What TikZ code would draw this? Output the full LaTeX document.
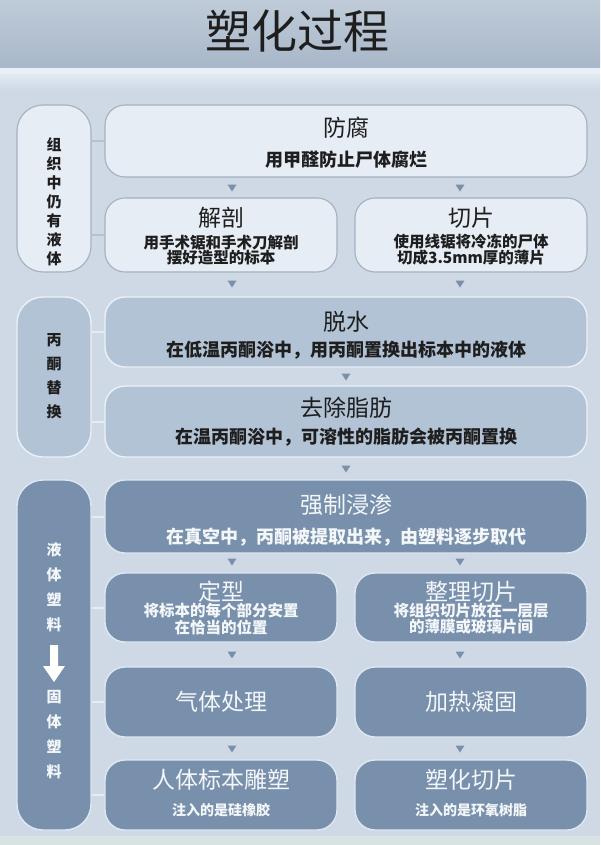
\documentclass[tikz,border=0pt]{standalone}
\usepackage{fontspec}
\setmainfont{Noto Sans CJK SC}
\usetikzlibrary{calc}
\definecolor{bg}{HTML}{CED9E5}
\definecolor{bandtop}{HTML}{BFCBD8}
\definecolor{bandbot}{HTML}{A8B7C9}
\definecolor{wline}{HTML}{E9EFF6}
\definecolor{lightfill}{HTML}{E7EDF5}
\definecolor{lightedge}{HTML}{A3B1C1}
\definecolor{midfill}{HTML}{B3C3D6}
\definecolor{midedge}{HTML}{EAF1F8}
\definecolor{darkfill}{HTML}{7890AC}
\definecolor{darkedge}{HTML}{DDE8F3}
\definecolor{tricol}{HTML}{7A90A8}
\definecolor{connlight}{HTML}{B4C1D0}
\definecolor{connwhite}{HTML}{E4ECF5}
\definecolor{ink}{HTML}{1E1E1E}
\definecolor{wink}{HTML}{F4F7FA}
\definecolor{botstrip}{HTML}{D8E2E3}
\begin{document}
\begin{tikzpicture}[x=1pt,y=1pt,
  lightbox/.style={draw=lightedge, fill=lightfill, line width=1.1pt, rounded corners=20pt, inner sep=0pt},
  midbox/.style={draw=midedge, fill=midfill, line width=1.4pt, rounded corners=20pt, inner sep=0pt},
  darkbox/.style={draw=darkedge, fill=darkfill, line width=1.4pt, rounded corners=20pt, inner sep=0pt},
  full/.style={minimum width=482pt},
  half/.style={minimum width=232pt},
  side/.style={minimum width=74pt, rounded corners=26pt},
  ttl/.style={font=\fontsize{23}{26}\selectfont, inner sep=0pt},
  sub/.style={font=\bfseries\fontsize{18}{20}\selectfont, inner sep=0pt},
  hsub/.style={font=\bfseries\fontsize{15.5}{15}\selectfont, align=center, inner sep=0pt},
  vtext/.style={font=\bfseries\fontsize{15}{19}\selectfont, align=center, inner sep=0pt},
  tri/.style={fill=tricol},
  conn/.style={line width=2pt}
]
\useasboundingbox (0,0) rectangle (600,-845);
\fill[bg] (0,0) rectangle (600,-845);
\shade[top color=bandtop, bottom color=bandbot] (0,0) rectangle (600,-68);
\fill[wline] (0,-68) rectangle (600,-75);
\shade[top color=wline!70!bg, bottom color=bg] (0,-75) rectangle (600,-90);
\fill[botstrip] (0,-836) rectangle (600,-845);
\node[font=\fontsize{46}{50}\selectfont, text=ink, inner sep=0pt] (title) at (297,-31) {塑化过程};

% left group boxes
\node[lightbox,side,minimum height=167pt] (g1) at (54,-188.5) {};
\node[midbox,side,minimum height=160pt] (g2) at (54,-377) {};
\node[darkbox,side,minimum height=350pt] (g3) at (54,-655) {};

% main boxes
\node[lightbox,full,minimum height=72pt] (fangfu) at (346,-141) {};
\node[lightbox,half,minimum height=74pt] (jiepou) at (221,-235) {};
\node[lightbox,half,minimum height=74pt] (qiepian) at (471,-235) {};
\node[midbox,full,minimum height=70pt] (tuoshui) at (346,-332) {};
\node[midbox,full,minimum height=71pt] (quchu) at (346,-421.5) {};
\node[darkbox,full,minimum height=73pt] (qiangzhi) at (346,-516.5) {};
\node[darkbox,half,minimum height=69pt] (dingxing) at (221,-607.5) {};
\node[darkbox,half,minimum height=69pt] (zhengli) at (471,-607.5) {};
\node[darkbox,half,minimum height=70pt] (qiti) at (221,-702) {};
\node[darkbox,half,minimum height=70pt] (jiare) at (471,-702) {};
\node[darkbox,half,minimum height=70pt] (renti) at (221,-795) {};
\node[darkbox,half,minimum height=70pt] (suhua) at (471,-795) {};

% connectors from side groups
\draw[conn,connlight] (g1.east |- fangfu.west) -- (fangfu.west);
\draw[conn,connlight] (g1.east |- jiepou.west) -- (jiepou.west);
\draw[conn,connwhite] (g2.east |- tuoshui.west) -- (tuoshui.west);
\draw[conn,connwhite] (g2.east |- quchu.west) -- (quchu.west);
\draw[conn,connwhite] (g3.east |- qiangzhi.west) -- (qiangzhi.west);
\draw[conn,connwhite] (g3.east |- dingxing.west) -- (dingxing.west);
\draw[conn,connwhite] (g3.east |- qiti.west) -- (qiti.west);
\draw[conn,connwhite] (g3.east |- renti.west) -- (renti.west);

% flow triangles
\foreach \x/\y in {232/188, 460/188, 232/284, 460/284, 346/377, 346/469,
                   232/562, 460/562, 232/655, 460/655, 232/749, 460/749}
  \fill[tri] (\x-4.5,-\y+3.5) -- (\x+4.5,-\y+3.5) -- (\x,-\y-3.5) -- cycle;

% texts: light boxes
\node[ttl,text=ink] at (346,-128) {防腐};
\node[sub,text=ink] at (346,-160) {用甲醛防止尸体腐烂};
\node[ttl,text=ink] at (221,-218) {解剖};
\node[hsub,text=ink] at (221,-250) {用手术锯和手术刀解剖\\摆好造型的标本};
\node[ttl,text=ink] at (471,-218) {切片};
\node[hsub,text=ink] at (471,-250) {使用线锯将冷冻的尸体\\切成3.5mm厚的薄片};
% mid boxes
\node[ttl,text=ink] at (346,-322) {脱水};
\node[sub,text=ink] at (346,-350) {在低温丙酮浴中，用丙酮置换出标本中的液体};
\node[ttl,text=ink] at (346,-408) {去除脂肪};
\node[sub,text=ink] at (346,-437) {在温丙酮浴中，可溶性的脂肪会被丙酮置换};
% dark boxes
\node[ttl,text=wink] at (346,-505) {强制浸渗};
\node[sub,text=wink] at (346,-537) {在真空中，丙酮被提取出来，由塑料逐步取代};
\node[ttl,text=wink] at (221,-592) {定型};
\node[hsub,text=wink] at (221,-619) {将标本的每个部分安置\\在恰当的位置};
\node[ttl,text=wink] at (471,-592) {整理切片};
\node[hsub,text=wink] at (471,-619) {将组织切片放在一层层\\的薄膜或玻璃片间};
\node[ttl,text=wink] at (221,-702) {气体处理};
\node[ttl,text=wink] at (471,-702) {加热凝固};
\node[ttl,text=wink] at (221,-780) {人体标本雕塑};
\node[hsub,text=wink,font=\bfseries\fontsize{14}{14}\selectfont] at (221,-810) {注入的是硅橡胶};
\node[ttl,text=wink] at (471,-780) {塑化切片};
\node[hsub,text=wink,font=\bfseries\fontsize{14}{14}\selectfont] at (471,-810) {注入的是环氧树脂};

% side texts
\node[vtext,text=ink] at (54,-202) {组\\织\\中\\仍\\有\\液\\体};
\node[vtext,text=ink,font=\bfseries\fontsize{15}{24}\selectfont] at (54,-376) {丙\\酮\\替\\换};
\node[vtext,text=wink,font=\bfseries\fontsize{15}{25}\selectfont] at (54,-587.5) {液\\体\\塑\\料};
\node[vtext,text=wink,font=\bfseries\fontsize{15}{25}\selectfont] at (54,-734.5) {固\\体\\塑\\料};
\fill[white] (50,-645) -- (58,-645) -- (58,-666) -- (65,-666) -- (54,-682) -- (43,-666) -- (50,-666) -- cycle;
\end{tikzpicture}
\end{document}
